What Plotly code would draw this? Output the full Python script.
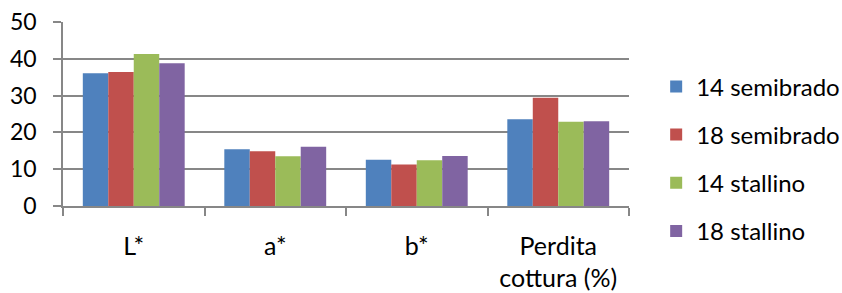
import plotly.graph_objects as go

categories = ["L*", "a*", "b*", "Perdita<br>cottura (%)"]
series_names = ["14 semibrado", "18 semibrado", "14 stallino", "18 stallino"]
s14_semibrado = [36.1, 15.4, 12.6, 23.6]
s18_semibrado = [36.4, 14.9, 11.3, 29.4]
s14_stallino = [41.3, 13.5, 12.4, 22.9]
s18_stallino = [38.8, 16.1, 13.6, 23.0]
y_ticks = [0, 10, 20, 30, 40, 50]

series_values = [s14_semibrado, s18_semibrado, s14_stallino, s18_stallino]
colors = ["#4F81BD", "#C0504D", "#9BBB59", "#8064A2"]

FONT = "Lato"
GRID = "#878787"

fig = go.Figure()
for i, (name, vals, col) in enumerate(zip(series_names, series_values, colors)):
    fig.add_trace(go.Bar(
        x=categories, y=vals, name=name,
        marker=dict(color=col, line=dict(width=0)),
        legendgroup=f"g{i}",
    ))

fig.update_layout(
    width=842, height=293,
    margin=dict(l=63, r=212.5, t=22, b=87.3, autoexpand=False),
    paper_bgcolor="white", plot_bgcolor="white",
    barmode="group", bargap=0.28, bargroupgap=0,
    font=dict(family=FONT, size=25, color="#000000"),
    showlegend=True,
    legend=dict(
        x=1.048, xanchor="left", y=0.77, yanchor="top",
        font=dict(family=FONT, size=24, color="#000000"),
        tracegroupgap=14, bgcolor="rgba(0,0,0,0)",
    ),
    xaxis=dict(
        showline=True, linecolor=GRID, linewidth=1.5,
        ticks="outside", tickson="boundaries", ticklen=8, tickcolor=GRID, tickwidth=1.5,
        showgrid=False, ticklabelstandoff=17, automargin=False,
        tickfont=dict(family=FONT, size=25, color="#000000"),
    ),
    yaxis=dict(
        range=[0, 50], tickvals=y_ticks, ticktext=[str(v) for v in y_ticks],
        showline=True, linecolor=GRID, linewidth=1.5,
        ticks="outside", ticklen=8, tickcolor=GRID, tickwidth=1.5,
        showgrid=True, gridcolor=GRID, gridwidth=1.5,
        zeroline=False, ticklabelstandoff=12, automargin=False,
        tickfont=dict(family=FONT, size=23, color="#000000"),
    ),
)

fig.write_html("out.html", config={"displayModeBar": False},
               post_script="document.body.style.margin='0';")
